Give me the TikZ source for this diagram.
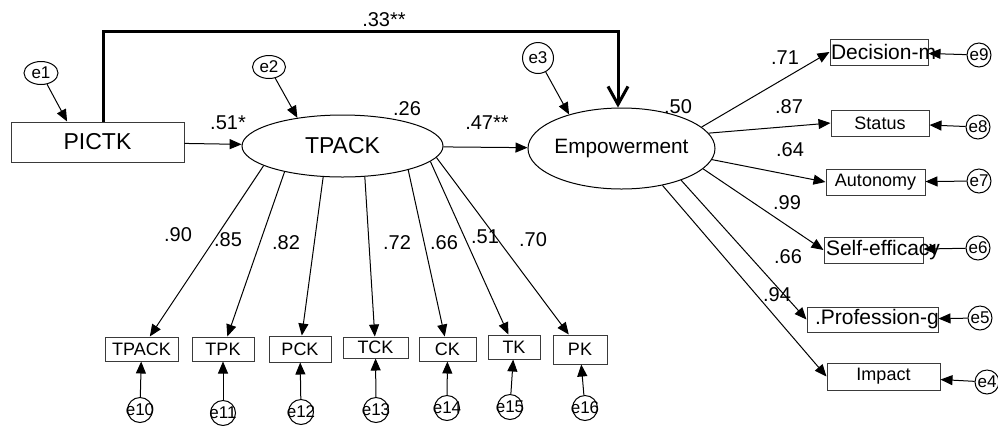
\documentclass[tikz,border=0pt]{standalone}
\usepackage{fontspec}
\setmainfont{Liberation Sans}
\usetikzlibrary{arrows.meta,shapes.geometric}
\definecolor{boxln}{HTML}{3A3A3A}
\tikzset{
  ar/.style={-{Triangle[length=6pt,width=5pt]},line width=0.5pt},
  direct/.style={-{Straight Barb[length=9pt,width=10pt]},line width=1.5pt},
  obs/.style={draw=boxln,line width=0.5pt,inner sep=0pt,font=\fontsize{9}{10}\selectfont},
  lat/.style={draw,ellipse,line width=0.5pt,inner sep=0pt,font=\fontsize{11.5}{12}\selectfont},
  err/.style={draw,ellipse,line width=0.5pt,inner sep=0pt,minimum size=12pt,font=\fontsize{8.5}{9}\selectfont},
  coef/.style={inner sep=0pt,font=\fontsize{10}{11}\selectfont},
  wide/.style={font=\fontsize{10.5}{11}\selectfont}
}

\begin{document}
\begin{tikzpicture}[x=0.5pt,y=-0.5pt]
\useasboundingbox (0,0) rectangle (998,425);
% structural part
\node[obs,minimum width=86.5pt,minimum height=20pt,font=\fontsize{11.5}{12}\selectfont] (pictk) at (97.5,142) {PICTK};
\node[lat,minimum width=100.5pt,minimum height=31pt] (tpack) at (342.5,146) {TPACK};
\node[lat,minimum width=93.5pt,minimum height=40.5pt,inner sep=-1pt,font=\fontsize{10.4}{11}\selectfont] (emp) at (621.5,148.5) {Empowerment};
\node[err,minimum width=17pt,minimum height=11.5pt] (e1) at (41,73) {\makebox[0pt]{e1}};
\node[err,minimum width=16.5pt,minimum height=11.5pt] (e2) at (269,67) {\makebox[0pt]{e2}};
\node[err,minimum size=15.5pt] (e3) at (538,58) {\makebox[0pt]{e3}};
\coordinate (bar) at (400,31);

% empowerment indicators
\node[obs,wide,minimum width=49pt,minimum height=13pt,inner xsep=0.5pt] (dec) at (879,52) {\makebox[48pt][l]{Decision-m}};
\node[obs,minimum width=49pt,minimum height=13pt] (sta) at (880,123) {Status};
\node[obs,minimum width=49.5pt,minimum height=13pt] (aut) at (875.5,182) {Autonomy};
\node[obs,wide,minimum width=49.5pt,minimum height=13pt,inner xsep=1pt] (sef) at (873.5,250) {\makebox[47.5pt][l]{Self-efficacy}};
\node[obs,wide,minimum width=65.5pt,minimum height=12.5pt,inner xsep=4pt] (pro) at (872.5,319.5) {\makebox[57.5pt][l]{.Profession-g}};
\node[obs,minimum width=56.5pt,minimum height=13.5pt] (imp) at (883.5,376.5) {Impact};
\foreach \i/\x/\y in {9/979/55,8/978/127,7/979/181,6/978/248,5/980/318,4/987/382}
  \node[err] (e\i) at (\x,\y) {\makebox[0pt]{e\i}};

% tpack indicators
\node[obs,minimum width=36.5pt,minimum height=12pt] (btpack) at (141.5,349) {TPACK};
\node[obs,minimum width=31pt,minimum height=12pt] (btpk) at (223,349) {TPK};
\node[obs,minimum width=31pt,minimum height=13pt] (bpck) at (300,349) {PCK};
\node[obs,minimum width=32.5pt,minimum height=10.5pt] (btck) at (375.5,347.5) {TCK};
\node[obs,minimum width=28.5pt,minimum height=12pt] (bck) at (447.5,349) {CK};
\node[obs,minimum width=26pt,minimum height=12pt] (btk) at (514,347) {TK};
\node[obs,minimum width=27pt,minimum height=14.5pt] (bpk) at (580,349.5) {PK};
\foreach \i/\x/\y in {10/140/410,11/223/413,12/301/412,13/376/410,14/447/408,15/510/407,16/585/408}
  \node[err,minimum size=12.5pt] (e\i) at (\x,\y) {\makebox[0pt]{e\i}};

% paths
\draw[ar] (e1) -- (pictk.146);
\draw[ar] (e2) -- (tpack.148);
\draw[ar] (e3) -- (emp.147);
\draw[ar] (pictk) -- (tpack);
\draw[ar] (tpack) -- (emp);
\draw[direct] ([xshift=2.75pt]pictk.north) |- (bar) -| ([xshift=-1.75pt]emp.north);
\foreach \a/\b in {194/btpack,204/btpk,238/bpck,306/btck,340/bck,350/btk,353/bpk}
  \draw[ar] (tpack.\a) -- (\b);
\foreach \a/\b in {15.8/dec,10.6/sta,353.6/aut,346.5/sef,332.5/pro,318.7/imp}
  \draw[ar] (emp.\a) -- (\b.west);
\foreach \e/\b in {e9/dec,e8/sta,e7/aut,e6/sef,e5/pro,e4/imp,e10/btpack,e11/btpk,e12/bpck,e13/btck,e14/bck,e15/btk,e16/bpk}
  \draw[ar] (\e) -- (\b);

% estimates
\node[coef] (c33) at (384,20) {.33**};
\node[coef] (c51) at (228,123) {.51*};
\node[coef] (r26) at (407,109) {.26};
\node[coef] (c47) at (487,123) {.47**};
\node[coef] (r50) at (678,107) {.50};
\node[coef] (l90) at (178,235) {.90};
\node[coef] (l85) at (228,240) {.85};
\node[coef] (l82) at (286,243) {.82};
\node[coef] (l72) at (397,243) {.72};
\node[coef] (l66) at (444,243) {.66};
\node[coef] (l51) at (485,237) {.51};
\node[coef] (l70) at (533,240) {.70};
\node[coef] (m71) at (785,58) {.71};
\node[coef] (m87) at (789,107) {.87};
\node[coef] (m64) at (790,150) {.64};
\node[coef] (m99) at (787,203) {.99};
\node[coef] (m66) at (788,257) {.66};
\node[coef] (m94) at (777,295) {.94};
\end{tikzpicture}
\end{document}
